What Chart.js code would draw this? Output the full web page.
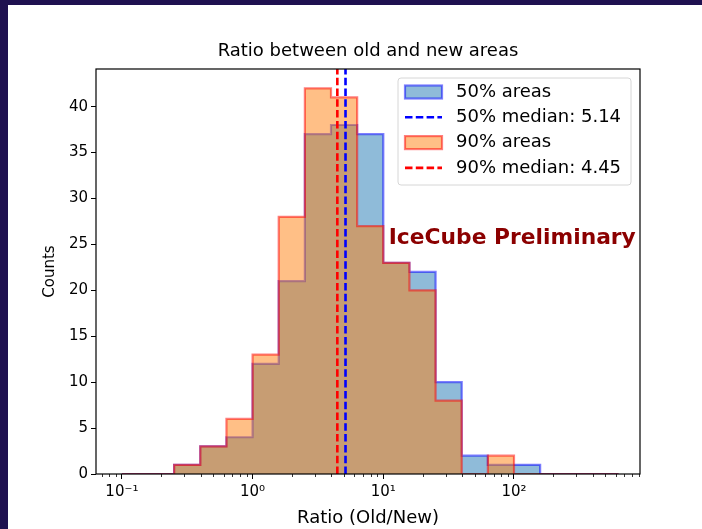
<!DOCTYPE html>
<html>
<head>
<meta charset="utf-8">
<script src="https://cdn.jsdelivr.net/npm/chart.js@4.4.1/dist/chart.umd.min.js"></script>
<style>
  html, body { margin: 0; padding: 0; background: #fff; }
  #frame { width: 694px; height: 524px; border-top: 5px solid #1f1150; border-left: 8px solid #1f1150; }
  canvas { display: block; }
</style>
</head>
<body>
<div id="frame"><canvas id="hist" width="694" height="524"></canvas></div>
<script>
// log-spaced bin edges (0.2 dex) and counts per bin
const binEdges = [0.1, 0.158, 0.251, 0.398, 0.631, 1.0, 1.585, 2.512, 3.981, 6.31,
                  10.0, 15.85, 25.12, 39.81, 63.1, 100, 158.5, 251.2, 398.1, 631];
const counts50 = [0, 0, 1, 3, 4, 12, 21, 37, 38, 37, 23, 22, 10, 2, 1, 1, 0, 0, 0];
const counts90 = [0, 0, 1, 3, 6, 13, 28, 42, 41, 27, 23, 20, 8, 0, 2, 0, 0, 0, 0];
const median50 = 5.14;
const median90 = 4.45;

const yTicks = [0, 5, 10, 15, 20, 25, 30, 35, 40];
const xMajorTicks = [0.1, 1, 10, 100];
const xTickLabels = ['10⁻¹', '10⁰', '10¹', '10²'];

const Y_MAX = 44.1;
const FONT = 'DejaVu Sans';

const blueFill = 'rgba(31,119,180,0.5)';
const blueEdge = 'rgba(0,0,255,0.5)';
const orangeFill = 'rgba(255,127,14,0.5)';
const redEdge = 'rgba(255,0,0,0.5)';

// stepped outline: each edge carries the height of the bin that starts there
function steps(counts) {
  return binEdges.map((x, i) => ({ x: x, y: i < counts.length ? counts[i] : 0 }));
}

function medianLine(v) {
  return [{ x: v, y: 0 }, { x: v, y: Y_MAX }];
}

// spines, minor x ticks, legend box and watermark text
const decorations = {
  id: 'decorations',
  afterDatasetsDraw(chart) {
    const { ctx, chartArea: a, scales } = chart;
    const xs = scales.x, ys = scales.y;
    ctx.save();

    // minor ticks on the log axis
    ctx.strokeStyle = '#000';
    ctx.lineWidth = 0.8;
    [0.01, 0.1, 1, 10, 100].forEach(d => {
      for (let m = 2; m <= 9; m++) {
        const v = d * m;
        if (v < xs.min || v > xs.max) continue;
        const px = Math.round(xs.getPixelForValue(v)) + 0.5;
        ctx.beginPath();
        ctx.moveTo(px, a.bottom);
        ctx.lineTo(px, a.bottom + 3);
        ctx.stroke();
      }
    });

    // axes frame
    ctx.lineWidth = 1.2;
    ctx.strokeRect(a.left, a.top, a.right - a.left, a.bottom - a.top);

    // watermark
    ctx.font = 'bold 21.8px "' + FONT + '"';
    ctx.fillStyle = '#8b0000';
    ctx.textBaseline = 'alphabetic';
    ctx.textAlign = 'left';
    ctx.fillText('IceCube Preliminary', xs.getPixelForValue(11), ys.getPixelForValue(25));

    // legend
    const ds = chart.data.datasets;
    const bx = a.right - 242, by = a.top + 9, bw = 233, bh = 107;
    ctx.beginPath();
    ctx.roundRect(bx, by, bw, bh, 3);
    ctx.fillStyle = 'rgba(255,255,255,0.8)';
    ctx.fill();
    ctx.strokeStyle = '#d6d6d6';
    ctx.lineWidth = 1;
    ctx.stroke();

    ctx.font = '18px "' + FONT + '"';
    ctx.textBaseline = 'middle';
    ds.forEach((d, i) => {
      const cy = by + 14 + i * 25.3;
      const sx = bx + 7, sw = 37;
      if (d.fill) {
        ctx.fillStyle = d.backgroundColor;
        ctx.fillRect(sx, cy - 6.5, sw, 13);
        ctx.strokeStyle = d.borderColor;
        ctx.lineWidth = 2.2;
        ctx.strokeRect(sx, cy - 6.5, sw, 13);
      } else {
        ctx.strokeStyle = d.borderColor;
        ctx.lineWidth = d.borderWidth;
        ctx.setLineDash(d.borderDash);
        ctx.beginPath();
        ctx.moveTo(sx, cy);
        ctx.lineTo(sx + sw, cy);
        ctx.stroke();
        ctx.setLineDash([]);
      }
      ctx.fillStyle = '#000';
      ctx.fillText(d.label, bx + 58, cy);
    });

    ctx.restore();
  }
};

new Chart(document.getElementById('hist'), {
  type: 'line',
  data: {
    datasets: [
      {
        label: '50% areas', data: steps(counts50), stepped: 'before',
        fill: 'origin', backgroundColor: blueFill, borderColor: blueEdge,
        borderWidth: 2.2, pointRadius: 0, order: 4
      },
      {
        label: '50% median: ' + median50.toFixed(2), data: medianLine(median50),
        fill: false, borderColor: '#0000ff', borderWidth: 2.6, borderDash: [7.5, 3.3],
        pointRadius: 0, order: 1
      },
      {
        label: '90% areas', data: steps(counts90), stepped: 'before',
        fill: 'origin', backgroundColor: orangeFill, borderColor: redEdge,
        borderWidth: 2.2, pointRadius: 0, order: 3
      },
      {
        label: '90% median: ' + median90.toFixed(2), data: medianLine(median90),
        fill: false, borderColor: '#ff0000', borderWidth: 2.6, borderDash: [7.5, 3.3],
        pointRadius: 0, order: 0
      }
    ]
  },
  options: {
    responsive: false,
    animation: false,
    layout: { padding: { left: 0, right: 62, top: 0, bottom: 0 } },
    plugins: {
      legend: { display: false },
      tooltip: { enabled: false },
      title: {
        display: true, text: 'Ratio between old and new areas', fullSize: false,
        color: '#000', font: { family: FONT, size: 18, weight: 'normal' },
        padding: { top: 36, bottom: 6.4 }
      }
    },
    scales: {
      x: {
        type: 'logarithmic',
        min: Math.pow(10, -1.198),
        max: Math.pow(10, 2.964),
        afterBuildTicks: s => { s.ticks = xMajorTicks.map(v => ({ value: v })); },
        afterFit: s => { s.height = 55; },
        ticks: {
          callback: v => { const i = xMajorTicks.indexOf(v); return i >= 0 ? xTickLabels[i] : ''; },
          color: '#000', font: { family: FONT, size: 15 }, padding: 4,
          maxRotation: 0, autoSkip: false
        },
        grid: { drawOnChartArea: false, tickLength: 5, tickColor: '#000', tickWidth: 1 },
        border: { display: false },
        title: {
          display: true, text: 'Ratio (Old/New)', color: '#000',
          font: { family: FONT, size: 18 }, padding: 0
        }
      },
      y: {
        min: 0,
        max: Y_MAX,
        afterBuildTicks: s => { s.ticks = yTicks.map(v => ({ value: v })); },
        afterFit: s => { s.width = 88; },
        ticks: { color: '#000', font: { family: FONT, size: 15 }, padding: 3 },
        grid: { drawOnChartArea: false, tickLength: 5, tickColor: '#000', tickWidth: 1 },
        border: { display: false },
        title: {
          display: true, text: 'Counts', color: '#000',
          font: { family: FONT, size: 15 }, padding: { top: 33, bottom: 0 }
        }
      }
    }
  },
  plugins: [decorations]
});
</script>
</body>
</html>
